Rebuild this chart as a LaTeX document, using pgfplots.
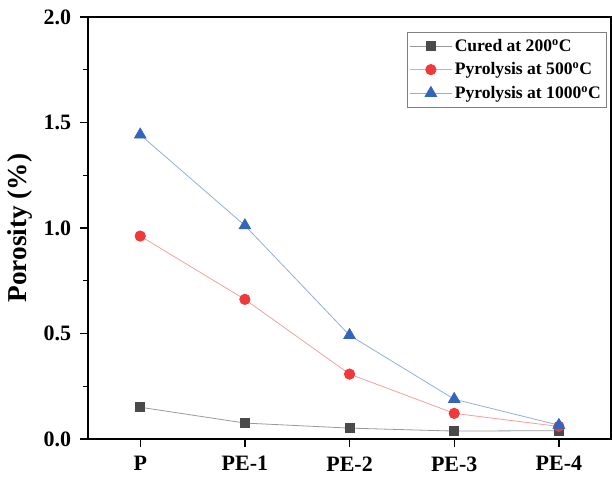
\documentclass[border=0pt]{standalone}
\usepackage{fontspec}
\setmainfont{Liberation Serif}
\usepackage{pgfplots}
\pgfplotsset{compat=1.18}
\definecolor{curedmk}{HTML}{4A4A4A}
\definecolor{curedln}{HTML}{9A9A9A}
\definecolor{pyr5mk}{HTML}{EE3A3A}
\definecolor{pyr5ln}{HTML}{F4A0A0}
\definecolor{pyr10mk}{HTML}{3366BB}
\definecolor{pyr10ln}{HTML}{90AEE0}

\begin{document}
\begin{tikzpicture}
\begin{axis}[
    scale only axis,
    width=393pt, height=317pt,
    xmin=-0.5, xmax=4.5,
    ymin=0, ymax=2,
    xtick={0,1,2,3,4},
    xticklabels={P,PE-1,PE-2,PE-3,PE-4},
    ytick={0,0.5,1,1.5,2},
    minor y tick num=1,
    yticklabel style={xshift=-3pt,/pgf/number format/.cd,fixed,fixed zerofill,precision=1,assume math mode=true},
    xticklabel style={yshift=-3.5pt},
    tick label style={font=\fontsize{16.5}{18}\selectfont\bfseries},
    ylabel={Porosity (\%)},
    ylabel style={font=\fontsize{20.5}{24}\selectfont\bfseries, yshift=2pt},
    tick align=outside,
    xtick pos=bottom, ytick pos=left,
    major tick length=6pt, minor tick length=3.5pt,
    axis line style={line width=1.3pt},
    every tick/.style={black, line width=1pt},
    legend style={at={(0.609,0.9645)}, anchor=north west, draw=gray, line width=0.6pt,
        font=\fontsize{13.2}{15}\selectfont\bfseries, row sep=3pt, inner xsep=2pt, inner ysep=3pt},
    legend image code/.code={\draw[mark repeat=2,mark phase=2] plot coordinates {(0cm,0cm) (0.55cm,0cm) (1.1cm,0cm)};},
    legend cell align=left,
]
\addplot[color=curedln, line width=0.6pt, mark=square*, mark size=3.4pt,
    mark options={fill=curedmk, draw=curedmk}] coordinates {
 (0,0.151) (1,0.076) (2,0.052) (3,0.038) (4,0.040)
};
\addlegendentry{Cured at 200\textsuperscript{o}C}
\addplot[color=pyr5ln, line width=0.6pt, mark=*, mark size=3.9pt,
    mark options={fill=pyr5mk, draw=pyr5mk}] coordinates {
 (0,0.962) (1,0.662) (2,0.308) (3,0.122) (4,0.060)
};
\addlegendentry{Pyrolysis at 500\textsuperscript{o}C}
\addplot[color=pyr10ln, line width=0.6pt, mark=triangle*, mark size=5pt,
    mark options={fill=pyr10mk, draw=pyr10mk}] coordinates {
 (0,1.442) (1,1.012) (2,0.492) (3,0.189) (4,0.066)
};
\addlegendentry{Pyrolysis at 1000\textsuperscript{o}C}
\end{axis}
\pgfresetboundingbox
\path ([shift={(-66pt,-29.25pt)}]current axis.south west) rectangle ([shift={(0.6pt,12.75pt)}]current axis.north east);
\end{tikzpicture}
\end{document}
